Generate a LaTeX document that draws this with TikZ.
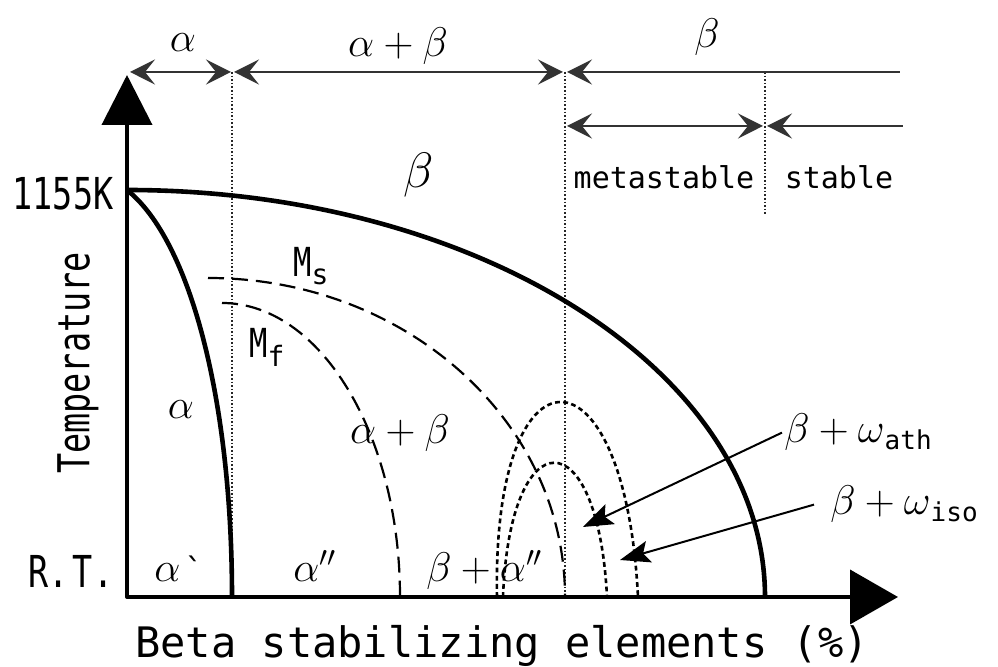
\documentclass[tikz,border=0pt]{standalone}
\usepackage{fontspec}
\usepackage{amsmath}
\usetikzlibrary{arrows.meta}
\newfontfamily\gothic{DejaVu Sans Mono}
\newfontfamily\gothicnarrow[FakeStretch=0.76]{DejaVu Sans Mono}

\begin{document}
\begin{tikzpicture}[
    x=0.5pt, y=-0.5pt,
    greek/.style={font=\fontsize{22}{26}\selectfont, inner sep=1pt},
    mono/.style={font=\gothic\fontsize{15}{18}\selectfont, inner sep=1pt},
    narrow/.style={font=\gothicnarrow\fontsize{22}{26}\selectfont, inner sep=1pt},
    dimtip/.tip={Stealth[length=12.5pt, width=12.5pt, inset=5pt]},
    axisline/.style={line width=2pt, line join=round, {Triangle[length=25pt, width=25pt]}-{Triangle[length=24pt, width=27pt]}},
    dimline/.style={line width=1pt, black!80},
    guide/.style={line width=0.8pt, densely dotted, black!85},
    phase/.style={line width=2.3pt},
    mart/.style={line width=1.1pt, dash pattern=on 8pt off 4pt},
    omega/.style={line width=1.3pt, dash pattern=on 2.4pt off 1.7pt},
    ptr/.style={line width=1pt, -{Stealth[length=15pt, width=11pt, inset=3pt]}}
]
\fill[white] (0,0) rectangle (998,667);
\useasboundingbox (0,0) rectangle (998,667);

% axes and guide lines
\coordinate (origin) at (127,597);
\coordinate (ytop) at (127,75);
\coordinate (xend) at (898,597);
\coordinate (g1t) at (232,72);  \coordinate (g1b) at (232,597);
\coordinate (g2t) at (565,72);  \coordinate (g2b) at (565,597);
\coordinate (g3t) at (765,72);  \coordinate (g3b) at (765,215);
\draw[guide] (g1t) -- (g1b);
\draw[guide] (g2t) -- (g2b);
\draw[guide] (g3t) -- (g3b);

% composition ranges
\coordinate (r1a) at (130,72); \coordinate (r1b) at (231,72);
\coordinate (r1c) at (234,72); \coordinate (r1d) at (563,72);
\coordinate (r1e) at (567,72); \coordinate (r1f) at (900,72);
\coordinate (r2a) at (567,126); \coordinate (r2b) at (763,126);
\coordinate (r2c) at (767,126); \coordinate (r2d) at (903,126);
\draw[dimline, dimtip-dimtip] (r1a) -- (r1b);
\draw[dimline, dimtip-dimtip] (r1c) -- (r1d);
\draw[dimline, dimtip-] (r1e) -- (r1f);
\draw[dimline, dimtip-dimtip] (r2a) -- (r2b);
\draw[dimline, dimtip-] (r2c) -- (r2d);
\node[greek] (topalpha) at (183,43) {$\alpha$};
\node[greek] (topab) at (398,46) {$\alpha+\beta$};
\node[greek] (topbeta) at (707,37) {$\beta$};
\node[mono] (meta) at (664,177) {metastable};
\node[mono] (stab) at (839,177) {stable};

% phase boundaries
\coordinate (tbeta) at (127,190);
\draw[phase] (tbeta) arc[start angle=-90, end angle=0, x radius=638, y radius=407];
\draw[phase] (tbeta) .. controls (190,240) and (232,400) .. (g1b);
\draw[mart] (208,278) arc[start angle=-90, end angle=0, x radius=357, y radius=319];
\draw[mart] (222,303) arc[start angle=-90, end angle=0, x radius=178, y radius=294];
\draw[omega] (497,597) .. controls (492,337) and (625,337) .. (638,597);
\draw[omega] (503,597) .. controls (510,418) and (598,418) .. (607,597);

\draw[axisline] (ytop) -- (origin) -- (xend);

% labels
\node[narrow] (tk) at (63,194) {1155K};
\node[narrow, rotate=90] (temp) at (78,363) {Temperature};
\node[narrow] (rt) at (71,571) {R.\kern2pt T.};
\node[font=\gothic\fontsize{21}{24}\selectfont] (xlbl) at (502,646) {Beta stabilizing elements (\%)};
\node[narrow, font=\gothicnarrow\fontsize{20}{24}\selectfont, anchor=base west] (ms) at (291,277) {M\raisebox{-4pt}{\gothic\fontsize{14}{14}\selectfont s}};
\node[narrow, font=\gothicnarrow\fontsize{20}{24}\selectfont, anchor=base west] (mf) at (247,358) {M\raisebox{-4.5pt}{\gothic\fontsize{14}{14}\selectfont f}};
\node[font=\fontsize{24}{28}\selectfont] (regbeta) at (419,175) {$\beta$};
\node[greek] (regalpha) at (181,410) {$\alpha$};
\node[greek] (regab) at (400,433) {$\alpha+\beta$};
\node[greek, anchor=base west] (aprime) at (152,582) {$\alpha$\hspace{2pt}{\gothic\fontsize{16}{16}\selectfont\textasciigrave}};
\node[greek, anchor=base west] (adprime) at (291,582) {$\alpha''$};
\node[greek, anchor=base west] (badprime) at (424,582) {$\beta+\alpha''$};
\node[greek, anchor=base west] (ath) at (782,443) {$\beta+\omega$\raisebox{-3.5pt}{\gothic\fontsize{13}{13}\selectfont ath}};
\node[greek, anchor=base west] (iso) at (828,515) {$\beta+\omega$\raisebox{-3.5pt}{\gothic\fontsize{13}{13}\selectfont iso}};
\coordinate (athtip) at (583,527);
\coordinate (isotip) at (620,560);
\draw[ptr] (ath.west) -- (athtip);
\draw[ptr] ([xshift=-7pt]iso.west) -- (isotip);
\end{tikzpicture}
\end{document}
